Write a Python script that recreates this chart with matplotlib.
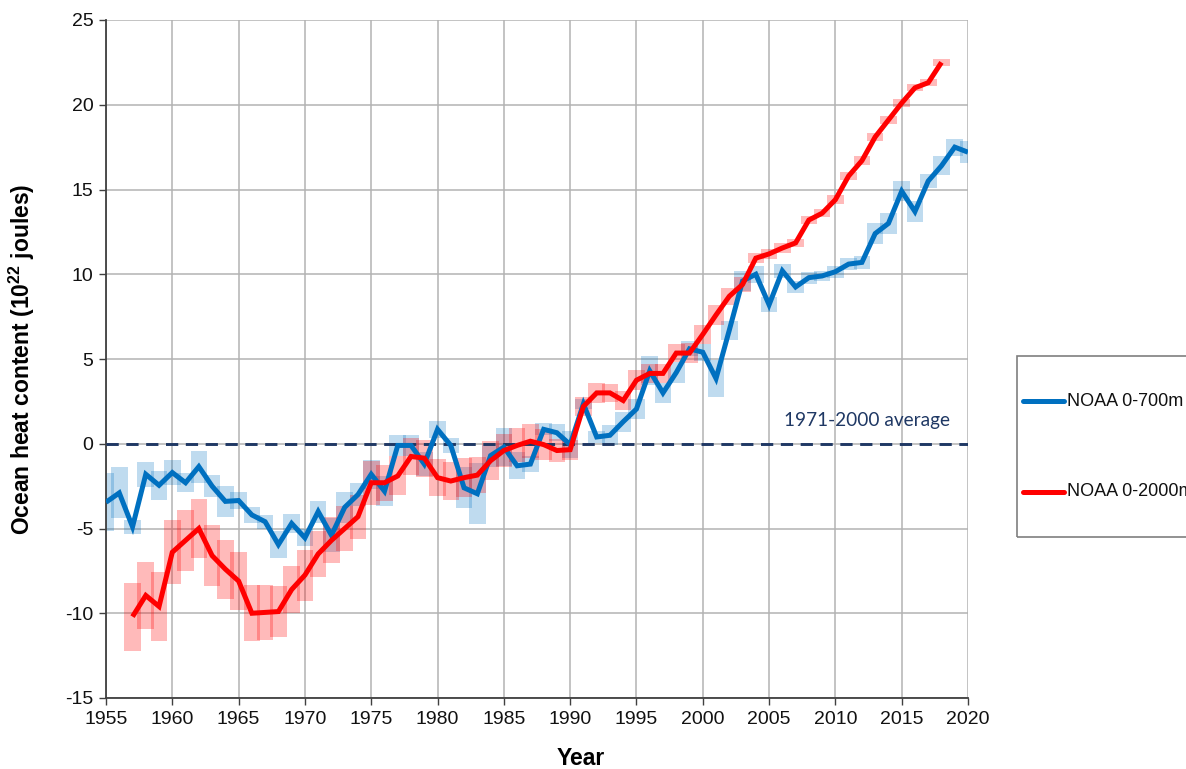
import numpy as np
import matplotlib
matplotlib.use("Agg")
import matplotlib.pyplot as plt
from matplotlib.patches import Rectangle
from matplotlib.lines import Line2D

# NOAA 0-700 m ocean heat content anomaly (10^22 J), 1955-2020
years_700 = list(range(1955, 2021))
ohc_700 = [-3.45, -2.9, -4.9, -1.8, -2.45, -1.7, -2.3, -1.35, -2.5, -3.4,
           -3.35, -4.2, -4.6, -5.95, -4.7, -5.55, -4.0, -5.4, -3.75, -3.0,
           -1.8, -2.8, -0.1, -0.1, -1.2, 0.85, -0.1, -2.6, -2.95, -0.7,
           -0.2, -1.3, -1.2, 0.85, 0.65, -0.05, 2.35, 0.4, 0.5, 1.3,
           2.05, 4.3, 3.0, 4.2, 5.6, 5.4, 3.85, 6.7, 9.6, 10.0,
           8.2, 10.2, 9.25, 9.8, 9.9, 10.15, 10.6, 10.7, 12.4, 13.0,
           14.9, 13.7, 15.5, 16.4, 17.5, 17.2]
err_700 = [1.7, 1.5, 0.4, 0.75, 0.85, 0.75, 0.55, 0.95, 0.65, 0.9,
           0.5, 0.45, 0.4, 0.8, 0.55, 0.5, 0.65, 1.0, 0.9, 0.7,
           0.85, 0.9, 0.6, 0.6, 0.7, 0.5, 0.45, 1.2, 1.8, 0.65,
           1.1, 0.8, 0.45, 0.35, 0.5, 0.8, 0.3, 0.35, 0.6, 0.6,
           0.6, 0.85, 0.6, 0.6, 0.45, 0.5, 1.1, 0.55, 0.6, 0.5,
           0.45, 0.4, 0.35, 0.35, 0.3, 0.35, 0.35, 0.4, 0.6, 0.6,
           0.6, 0.6, 0.4, 0.55, 0.5, 0.65]

# NOAA 0-2000 m ocean heat content anomaly (10^22 J), 1957-2018
years_2000 = list(range(1957, 2019))
ohc_2000 = [-10.2, -8.95, -9.6, -6.4, -5.7, -5.0, -6.6, -7.4, -8.1, -10.0,
            -9.95, -9.9, -8.6, -7.75, -6.5, -5.7, -5.0, -4.3, -2.3, -2.3,
            -1.9, -0.75, -0.85, -2.0, -2.2, -2.0, -1.85, -1.0, -0.4, -0.1,
            0.15, -0.05, -0.4, -0.35, 2.2, 3.0, 3.0, 2.55, 3.75, 4.15,
            4.15, 5.35, 5.35, 6.45, 7.6, 8.7, 9.4, 10.95, 11.2, 11.55,
            11.85, 13.2, 13.6, 14.4, 15.8, 16.7, 18.1, 19.1, 20.1, 21.0,
            21.3, 22.5]
err_2000 = [2.0, 2.0, 2.05, 1.9, 1.8, 1.75, 1.8, 1.75, 1.7, 1.65,
            1.6, 1.5, 1.4, 1.5, 1.35, 1.35, 1.3, 1.3, 1.3, 1.05,
            1.15, 1.1, 1.1, 1.1, 1.1, 1.15, 1.05, 1.15, 1.0, 1.0,
            1.0, 0.9, 0.7, 0.6, 0.55, 0.6, 0.55, 0.55, 0.6, 0.55,
            0.55, 0.55, 0.6, 0.55, 0.6, 0.5, 0.45, 0.3, 0.3, 0.3,
            0.25, 0.25, 0.25, 0.25, 0.25, 0.25, 0.25, 0.25, 0.25, 0.2,
            0.2, 0.2]

x_ticks = list(range(1955, 2021, 5))
y_ticks = list(range(-15, 26, 5))

label_700 = "NOAA 0-700m"
label_2000 = "NOAA 0-2000m"
baseline_label = "1971-2000 average"

BLUE = "#0070C0"
RED = "#FF0000"
NAVY = "#1F3864"
GRID = "#b3b3b3"

plt.rcParams["font.family"] = ["Liberation Sans", "DejaVu Sans"]
plt.rcParams["mathtext.fontset"] = "custom"
plt.rcParams["mathtext.rm"] = "Liberation Sans:bold"
plt.rcParams["axes.unicode_minus"] = False

fig = plt.figure(figsize=(11.86, 7.69), dpi=100)
ax = fig.add_axes([106 / 1186, 1 - 698 / 769, (968 - 106) / 1186, (698 - 20) / 769])

# uncertainty boxes
y7 = np.array(ohc_700)
e7 = np.array(err_700)
y2 = np.array(ohc_2000)
e2 = np.array(err_2000)
ax.bar(years_700, 2 * e7, bottom=y7 - e7, width=1.25, color=BLUE,
       alpha=0.25, linewidth=0, zorder=2)
ax.bar(years_2000, 2 * e2, bottom=y2 - e2, width=1.25, color=RED,
       alpha=0.27, linewidth=0, zorder=2)

# baseline
ax.axhline(0, color=NAVY, lw=2.1, dashes=(4.2, 2.6), zorder=3)

line700, = ax.plot(years_700, ohc_700, color=BLUE, lw=3.6, zorder=4,
                   solid_joinstyle="miter", solid_capstyle="butt")
line2000, = ax.plot(years_2000, ohc_2000, color=RED, lw=3.6, zorder=5,
                    solid_joinstyle="miter", solid_capstyle="butt")

ax.text(2018.65, 1.35, baseline_label, ha="right", va="center",
        fontsize=13.7, color=NAVY, family=["Lato", "DejaVu Sans"], zorder=6)

ax.set_xlim(1955, 2020)
ax.set_ylim(-15, 25)
ax.set_xticks(x_ticks)
ax.set_yticks(y_ticks)
ax.grid(True, color=GRID, lw=1.1, zorder=0)
ax.set_axisbelow(True)
for s in ("top", "right"):
    ax.spines[s].set_visible(False)
for s in ("left", "bottom"):
    ax.spines[s].set_color("#404040")
    ax.spines[s].set_linewidth(1.3)
ax.tick_params(axis="both", direction="out", length=5, width=1.0,
               color="#404040", labelsize=14, labelcolor="#111111", pad=4)

ax.set_xlabel("Year", fontsize=16.5, fontweight="bold")
ax.xaxis.set_label_coords(0.551, -0.0885)
ax.xaxis.label.set_va("center")
ax.set_ylabel(r"Ocean heat content (10$^{\mathrm{22}}$ joules)",
              fontsize=16.5, fontweight="bold")
ax.yaxis.set_label_coords(-0.0974, 0.5)
ax.yaxis.label.set_va("center")

# legend panel on the right
W, H = 1186, 769
fig.patches.append(Rectangle((1017 / W, 1 - 537 / H), 0.3, (537 - 356) / H,
                             transform=fig.transFigure, fill=False,
                             edgecolor="#7f7f7f", lw=1.2))
for yy, ln, lab in ((401, line700, label_700), (492, line2000, label_2000)):
    fig.lines.append(Line2D([1023 / W, 1064 / W], [1 - yy / H, 1 - yy / H],
                            transform=fig.transFigure, color=ln.get_color(),
                            lw=3.6, solid_capstyle="round"))
    fig.text(1067 / W, 1 - yy / H, lab, ha="left", va="center", fontsize=13,
             color="#111111")

fig.savefig("out.png", dpi=100)
